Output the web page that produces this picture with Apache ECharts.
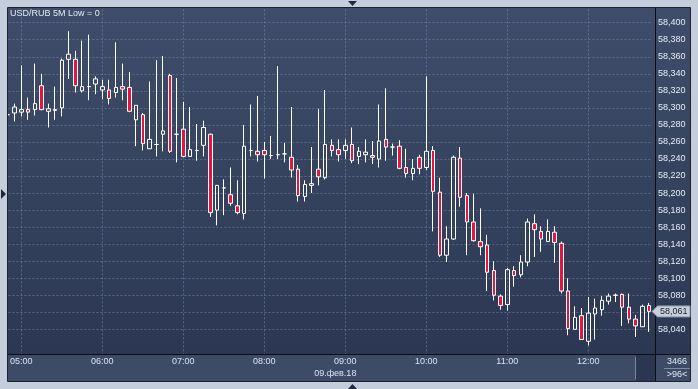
<!DOCTYPE html>
<html><head><meta charset="utf-8">
<script src="https://cdn.jsdelivr.net/npm/echarts@6.0.0/dist/echarts.min.js"></script>
<style>html,body{margin:0;padding:0;background:#c3cddc}#c{width:698px;height:389px}</style>
</head><body><div id="c"></div>
<script>
const times = ['04:50','04:55','05:00','05:05','05:10','05:15','05:20','05:25','05:30','05:35','05:40','05:45',
'05:50','05:55','06:00','06:05','06:10','06:15','06:20','06:25','06:30','06:35','06:40','06:45',
'06:50','06:55','07:00','07:05','07:10','07:15','07:20','07:25','07:30','07:35','07:40','07:45',
'07:50','07:55','08:00','08:05','08:10','08:15','08:20','08:25','08:30','08:35','08:40','08:45',
'08:50','08:55','09:00','09:05','09:10','09:15','09:20','09:25','09:30','09:35','09:40','09:45',
'09:50','09:55','10:00','10:05','10:10','10:15','10:20','10:25','10:30','10:35','10:40','10:45',
'10:50','10:55','11:00','11:05','11:10','11:15','11:20','11:25','11:30','11:35','11:40','11:45',
'11:50','11:55','12:00','12:05','12:10','12:15','12:20','12:25','12:30','12:35','12:40','12:45'];

const opens = [58.292,58.294,58.295,58.298,58.298,58.326,58.296,58.297,58.300,58.357,
58.357,58.320,58.325,58.328,58.321,58.321,58.318,58.325,58.324,58.286,
58.292,58.252,58.257,58.269,58.338,58.269,58.275,58.243,58.250,58.256,
58.269,58.180,58.206,58.198,58.185,58.176,58.250,58.249,58.250,58.244,
58.245,58.246,58.242,58.228,58.196,58.209,58.228,58.218,58.256,58.251,
58.250,58.257,58.243,58.245,58.244,58.240,58.263,58.254,58.255,58.230,
58.223,58.242,58.230,58.250,58.201,58.127,58.146,58.241,58.197,58.166,
58.143,58.139,58.109,58.079,58.069,58.109,58.104,58.119,58.164,58.155,
58.143,58.154,58.141,58.085,58.040,58.056,58.026,58.058,58.063,58.073,
58.080,58.081,58.066,58.052,58.043,58.068];

const closes = [58.292,58.301,58.298,58.295,58.305,58.298,58.299,58.298,58.356,58.363,
58.326,58.325,58.325,58.334,58.325,58.311,58.324,58.322,58.296,58.303,
58.258,58.263,58.257,58.273,58.249,58.269,58.243,58.251,58.250,58.277,
58.177,58.209,58.206,58.188,58.177,58.255,58.250,58.245,58.245,58.244,
58.245,58.246,58.227,58.197,58.210,58.211,58.219,58.257,58.250,58.245,
58.256,58.238,58.249,58.248,58.242,58.261,58.254,58.254,58.229,58.223,
58.229,58.229,58.249,58.202,58.127,58.146,58.242,58.195,58.166,58.144,
58.137,58.107,58.080,58.068,58.110,58.103,58.119,58.166,58.157,58.146,
58.155,58.142,58.085,58.041,58.054,58.028,58.059,58.065,58.074,58.079,
58.080,58.066,58.052,58.044,58.067,58.061];

const lows = [58.291,58.284,58.290,58.286,58.291,58.297,58.277,58.286,58.290,58.334,
58.318,58.318,58.309,58.316,58.310,58.304,58.312,58.309,58.295,58.255,
58.250,58.252,58.243,58.249,58.247,58.236,58.242,58.243,58.238,58.243,
58.172,58.162,58.174,58.185,58.175,58.169,58.243,58.237,58.217,58.240,
58.240,58.236,58.218,58.190,58.190,58.200,58.209,58.216,58.243,58.237,
58.240,58.235,58.234,58.236,58.234,58.230,58.238,58.244,58.228,58.218,
58.215,58.222,58.227,58.155,58.125,58.119,58.145,58.184,58.127,58.143,
58.127,58.085,58.074,58.063,58.062,58.090,58.101,58.114,58.125,58.131,
58.143,58.118,58.082,58.033,58.040,58.028,58.021,58.028,58.056,58.069,
58.072,58.044,58.047,58.031,58.043,58.037];

const highs = [58.293,58.305,58.350,58.312,58.352,58.340,58.305,58.325,58.358,58.390,
58.367,58.379,58.386,58.337,58.333,58.333,58.377,58.352,58.342,58.303,
58.294,58.331,58.356,58.361,58.340,58.335,58.307,58.301,58.281,58.285,
58.270,58.209,58.216,58.230,58.215,58.280,58.304,58.314,58.260,58.267,
58.349,58.259,58.301,58.233,58.215,58.254,58.299,58.321,58.263,58.263,
58.263,58.277,58.254,58.263,58.261,58.304,58.323,58.258,58.262,58.252,
58.240,58.245,58.337,58.255,58.218,58.161,58.244,58.254,58.200,58.199,
58.182,58.151,58.120,58.081,58.112,58.114,58.127,58.170,58.175,58.161,
58.169,58.161,58.143,58.100,58.067,58.065,58.078,58.076,58.079,58.082,
58.082,58.082,58.082,58.057,58.069,58.071];

const title = 'USD/RUB 5M Low = 0';
const dateLabel = '09.фев.18';
const boxTop = '3466';
const boxBottom = '>96<';

const FONT = 'Liberation Sans, Arial, sans-serif';
const gridColor = 'rgba(128,146,182,0.5)';
const yTickColors = Array.from({length: 22}, (_, i) => (i >= 2 && i <= 20) ? gridColor : 'rgba(0,0,0,0)');

const chart = echarts.init(document.getElementById('c'), null, {renderer: 'canvas'});
const candles = times.map((t, i) => [opens[i], closes[i], lows[i], highs[i]]);

chart.setOption({
  animation: false,
  backgroundColor: '#c3cddc',
  textStyle: {fontFamily: FONT},
  grid: {left: 4.4, right: 45.6, top: 5.67, bottom: 25.63, show: false},
  xAxis: {
    type: 'category', data: times, boundaryGap: true, offset: -9.37, z: 60,
    axisLine: {show: false}, axisTick: {show: false}, splitLine: {show: false},
    axisLabel: {
      interval: (i, v) => v.endsWith(':00'),
      color: '#d6e3f4', fontSize: 9, fontFamily: FONT, margin: 3
    }
  },
  yAxis: {
    type: 'value', position: 'right', min: 58.0, max: 58.42, interval: 0.02,
    axisLine: {show: false}, axisTick: {show: false},
    axisLabel: {
      margin: 5.6, color: '#e6ecf5', fontSize: 9, fontFamily: FONT,
      formatter: v => (v >= 58.03 && v <= 58.41) ? v.toFixed(3).replace('.', ',') : ''
    },
    splitLine: {lineStyle: {color: yTickColors, type: [2, 2], width: 1}}
  },
  series: [{
    type: 'candlestick',
    data: candles,
    barWidth: 4,
    itemStyle: {
      color: 'rgba(0,0,0,0)', color0: '#e3163f',
      borderColor: '#ffffff', borderColor0: '#ffffff', borderColorDoji: '#ffffff',
      borderWidth: 1
    },
    emphasis: {disabled: true},
    markLine: {
      z: 1, silent: true, symbol: ['none', 'none'], animation: false,
      label: {show: false},
      emphasis: {disabled: true},
      lineStyle: {color: gridColor, type: [2, 2], width: 1},
      data: times.filter(t => t.endsWith(':00')).map(t => ({xAxis: t}))
    }
  }]
});

const lastClose = closes[closes.length - 1];
const py = chart.convertToPixel({yAxisIndex: 0}, lastClose);
const dateX = chart.convertToPixel({xAxisIndex: 0}, '09:00') - 10;

chart.setOption({
  graphic: [
    {type: 'rect', z: -10, shape: {x: 8, y: 8, width: 682, height: 346},
     style: {fill: new echarts.graphic.LinearGradient(0, 0, 0, 1, [
       {offset: 0, color: '#3f4d6a'}, {offset: 1, color: '#2c3853'}])}},
    // frame overlays
    {type: 'rect', z: 50, shape: {x: 0, y: 0, width: 698, height: 7.5}, style: {fill: '#c3cddc'}},
    {type: 'rect', z: 50, shape: {x: 0, y: 0, width: 7.5, height: 389}, style: {fill: '#c3cddc'}},
    {type: 'rect', z: 50, shape: {x: 8, y: 354, width: 682, height: 28}, style: {fill: '#3e4b67'}},
    {type: 'rect', z: 51, shape: {x: 636, y: 355, width: 19, height: 27}, style: {fill: '#2b3650'}},
    {type: 'line', z: 52, shape: {x1: 635.5, y1: 357, x2: 635.5, y2: 379}, style: {stroke: '#7c8799', lineWidth: 1}},
    {type: 'rect', z: 53, shape: {x: 7.5, y: 7.5, width: 683, height: 374}, style: {fill: null, stroke: '#1b2333', lineWidth: 1}},
    {type: 'line', z: 53, shape: {x1: 8, y1: 354.5, x2: 690, y2: 354.5}, style: {stroke: '#0a0d14', lineWidth: 1}},
    {type: 'line', z: 53, shape: {x1: 655.5, y1: 8, x2: 655.5, y2: 381}, style: {stroke: '#0a0d14', lineWidth: 1}},
    {type: 'rect', z: 49, shape: {x: 0, y: 382, width: 698, height: 7}, style: {fill: '#c3cddc'}},
    // decorative arrows
    {type: 'polygon', z: 55, shape: {points: [[348, 1], [357, 1], [352.5, 6]]}, style: {fill: '#1e293b'}},
    {type: 'polygon', z: 55, shape: {points: [[348, 389], [357, 389], [352.5, 384]]}, style: {fill: '#1e293b'}},
    {type: 'polygon', z: 55, shape: {points: [[1, 189], [1, 199], [6, 194]]}, style: {fill: '#1e293b'}},
    // texts
    {type: 'text', z: 60, x: 10, y: 14, style: {text: title, fill: '#e4e9f1', font: '9px ' + FONT, textVerticalAlign: 'middle', verticalAlign: 'middle'}},
    {type: 'text', z: 60, x: dateX, y: 374, style: {text: dateLabel, fill: '#d6e3f4', font: '9px ' + FONT, align: 'center', verticalAlign: 'middle'}},
    {type: 'text', z: 60, x: 677, y: 362, style: {text: boxTop, fill: '#e0e7f2', font: '9px ' + FONT, align: 'center', verticalAlign: 'middle'}},
    {type: 'line', z: 60, shape: {x1: 664, y1: 368.5, x2: 690, y2: 368.5}, style: {stroke: '#7f8aa0', lineWidth: 1}},
    {type: 'text', z: 60, x: 677, y: 375, style: {text: boxBottom, fill: '#e0e7f2', font: '9px ' + FONT, align: 'center', verticalAlign: 'middle'}},
    // current price marker
    {type: 'polygon', z: 60, shape: {points: [[652, py], [657.5, py - 5.5], [690, py - 5.5], [690, py + 5.5], [657.5, py + 5.5]]},
     style: {fill: '#c7cfdb', stroke: '#8d97a8', lineWidth: 1}},
    {type: 'text', z: 61, x: 660, y: py, style: {text: lastClose.toFixed(3).replace('.', ','), fill: '#18202e', font: '9px ' + FONT, verticalAlign: 'middle'}}
  ]
});
</script></body></html>
